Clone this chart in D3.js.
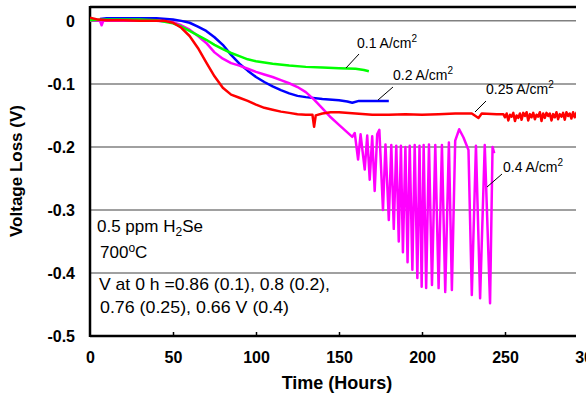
<!DOCTYPE html>
<html>
<head>
<meta charset="utf-8">
<script src="https://cdn.jsdelivr.net/npm/d3@7"></script>
<style>
  body { margin: 0; background: #fff; }
  text { font-family: Arial, "Liberation Sans", sans-serif; fill: #000; }
</style>
</head>
<body>
<div id="chart"></div>
<script>
(function (d3) {
  'use strict';

  // ---- data (hours, volts) ----
  const xTicks = [0, 50, 100, 150, 200, 250, 300];
  const yTicks = [0, -0.1, -0.2, -0.3, -0.4, -0.5];
  const seriesNames = ['0.1 A/cm', '0.2 A/cm', '0.25 A/cm', '0.4 A/cm'];

  const t01 = [0, 10, 20, 30, 40, 50, 55, 60, 65, 70, 75, 80, 85, 90, 95, 100, 110, 120, 130, 140, 150, 160, 165, 168];
  const v01 = [0.001, 0.002, 0.002, 0.002, 0.001, -0.004, -0.009, -0.016, -0.023, -0.030, -0.038, -0.045, -0.051,
               -0.056, -0.061, -0.064, -0.068, -0.071, -0.073, -0.074, -0.075, -0.076, -0.078, -0.080];

  const t02 = [6, 10, 20, 30, 40, 50, 55, 60, 65, 70, 75, 80, 85, 90, 95, 100, 105, 110, 115, 120, 125, 130,
               140, 150, 155, 158, 162, 170, 180];
  const v02 = [0.003, 0.004, 0.004, 0.004, 0.004, 0.002, 0.000, -0.003, -0.009, -0.016, -0.026, -0.038, -0.054,
               -0.068, -0.079, -0.089, -0.097, -0.104, -0.110, -0.115, -0.119, -0.121, -0.124, -0.126, -0.128,
               -0.130, -0.127, -0.127, -0.127];

  const t025 = [0, 5, 10, 20, 30, 40, 45, 50, 55, 60, 65, 70, 75, 80, 85, 90, 95, 100, 105, 110, 115, 120, 125,
                130, 134, 135, 136, 140, 145, 150, 160, 170, 180, 190, 200, 210, 220, 230, 234, 236, 245, 249,
                250, 251, 252, 253, 254, 255, 256, 257, 258, 259, 260, 261, 262, 263, 264, 265, 266, 267, 268,
                269, 270, 271, 272, 273, 274, 275, 276, 277, 278, 279, 280, 281, 282, 283, 284, 285, 286, 287,
                288, 289, 290, 291, 292, 293, 294.5];
  const v025 = [0.005, 0.002, 0.001, 0.001, 0.000, 0.000, 0.000, -0.003, -0.011, -0.024, -0.043, -0.066, -0.088,
                -0.106, -0.117, -0.122, -0.127, -0.133, -0.138, -0.141, -0.144, -0.146, -0.148, -0.149, -0.149,
                -0.168, -0.150, -0.147, -0.145, -0.145, -0.147, -0.149, -0.149, -0.148, -0.149, -0.148, -0.147,
                -0.147, -0.154, -0.147, -0.148, -0.148,
                -0.153, -0.147, -0.158, -0.149, -0.152, -0.146, -0.159, -0.150, -0.154, -0.147, -0.157, -0.146,
                -0.151, -0.145, -0.158, -0.148, -0.153, -0.146, -0.156, -0.149, -0.152, -0.145, -0.159, -0.147,
                -0.154, -0.146, -0.151, -0.147, -0.158, -0.148, -0.153, -0.145, -0.156, -0.148, -0.152, -0.146,
                -0.157, -0.145, -0.151, -0.147, -0.155, -0.145, -0.153, -0.146, -0.150];

  const t04 = [0, 6, 7, 8, 20, 30, 40, 50, 55, 60, 65, 70, 75, 80, 85, 90, 95, 100, 105, 110, 115, 120, 125, 130,
               135, 140, 145, 150, 155, 158, 159.5, 161.5, 163, 165.5, 167, 168.5, 170, 171.5, 173, 174.3, 176.5,
               178, 180, 181.5, 183, 184.5, 186, 187.3, 188.5, 190, 191.3, 192.6, 194.2, 195.6, 197.2, 198.5,
               199.8, 201, 202.5, 204.2, 206, 208, 210, 212, 214, 216.2, 218, 220, 222.4, 225, 228, 230, 232.5,
               235, 237.8, 241, 242.5, 243.5];
  const v04 = [0.000, 0.000, -0.007, 0.000, 0.000, 0.000, 0.000, -0.002, -0.007, -0.014, -0.024, -0.035, -0.050,
               -0.060, -0.067, -0.071, -0.076, -0.081, -0.085, -0.089, -0.094, -0.099, -0.105, -0.113, -0.125,
               -0.139, -0.153, -0.165, -0.177, -0.184, -0.178, -0.220, -0.180, -0.236, -0.182, -0.252, -0.183,
               -0.270, -0.180, -0.173, -0.300, -0.196, -0.316, -0.197, -0.330, -0.198, -0.350, -0.198, -0.367,
               -0.200, -0.383, -0.198, -0.395, -0.197, -0.408, -0.198, -0.422, -0.197, -0.424, -0.196, -0.419,
               -0.197, -0.424, -0.197, -0.430, -0.193, -0.427, -0.190, -0.172, -0.185, -0.205, -0.435, -0.198,
               -0.440, -0.197, -0.448, -0.200, -0.210];

  // ---- layout ----
  const width = 586, height = 404;
  const left = 90, right = 576, top = 7, bottom = 336;

  const x = d3.scaleLinear().domain([0, 300]).range([90, 588]);
  const y = d3.scaleLinear().domain([-0.5, 0.022]).range([bottom, top]);

  const svg = d3.select('#chart').append('svg')
      .attr('width', width)
      .attr('height', height);

  svg.append('defs').append('clipPath').attr('id', 'plot')
    .append('rect')
      .attr('x', left).attr('y', top)
      .attr('width', right - left).attr('height', bottom - top);

  // gridlines
  svg.append('g').selectAll('line').data(yTicks.filter(d => d > -0.5)).enter()
    .append('line')
      .attr('x1', left).attr('x2', right)
      .attr('y1', d => y(d)).attr('y2', d => y(d))
      .attr('stroke', '#808080')
      .attr('stroke-width', 1.5);

  // x axis
  const xAxis = svg.append('g')
      .attr('transform', 'translate(0,' + bottom + ')')
      .call(d3.axisBottom(x).tickValues(xTicks).tickSize(-4).tickPadding(16).tickFormat(d3.format('d')));
  xAxis.select('.domain').remove();
  xAxis.selectAll('.tick line')
      .attr('stroke', '#000').attr('stroke-width', 1.5)
      .attr('display', d => (d === 0 || x(d) > right) ? 'none' : null);
  xAxis.selectAll('text')
      .style('font-size', '16px').style('font-weight', 'bold').attr('fill', '#000');

  // y axis
  const yAxis = svg.append('g')
      .attr('transform', 'translate(' + left + ',0)')
      .call(d3.axisLeft(y).tickValues(yTicks).tickSize(0).tickPadding(15)
        .tickFormat(d => d === 0 ? '0' : String(d)));
  yAxis.select('.domain').remove();
  yAxis.selectAll('text')
      .style('font-size', '16px').style('font-weight', 'bold').attr('fill', '#000')
      .attr('dy', '0.36em');

  // frame
  const frame = svg.append('g').attr('stroke', '#000').attr('stroke-width', 2.5);
  frame.append('line').attr('x1', left).attr('x2', left).attr('y1', top - 1).attr('y2', bottom + 1);
  frame.append('line').attr('x1', left).attr('x2', right).attr('y1', bottom).attr('y2', bottom);
  frame.append('line').attr('x1', left).attr('x2', right).attr('y1', top).attr('y2', top);

  // series
  const series = [
    { name: seriesNames[1], pts: d3.zip(t02, v02), color: '#0000ff' },
    { name: seriesNames[3], pts: d3.zip(t04, v04), color: '#ff00ff' },
    { name: seriesNames[0], pts: d3.zip(t01, v01), color: '#00ff00' },
    { name: seriesNames[2], pts: d3.zip(t025, v025), color: '#ff0000' }
  ];

  const line = d3.line()
      .x(d => x(d[0]))
      .y(d => y(d[1]));

  svg.append('g').attr('clip-path', 'url(#plot)')
    .selectAll('path.series').data(series).enter()
    .append('path')
      .attr('class', 'series')
      .attr('d', d => line(d.pts))
      .attr('fill', 'none')
      .attr('stroke', d => d.color)
      .attr('stroke-width', 2.5)
      .attr('stroke-linejoin', 'round');

  // series labels with leader lines, placed in pixels
  const notes = [
    { name: seriesNames[0], from: [346, 68], to: [359, 54], at: [357, 48] },
    { name: seriesNames[1], from: [378, 100], to: [393, 87], at: [393, 80] },
    { name: seriesNames[2], from: [475, 112], to: [486, 101], at: [486, 94] },
    { name: seriesNames[3], from: [487, 187], to: [502, 174], at: [503, 172] }
  ];

  const ng = svg.append('g');
  ng.selectAll('line').data(notes).enter()
    .append('line')
      .attr('x1', d => d.from[0]).attr('y1', d => d.from[1])
      .attr('x2', d => d.to[0]).attr('y2', d => d.to[1])
      .attr('stroke', '#000').attr('stroke-width', 1);
  const nt = ng.selectAll('text').data(notes).enter()
    .append('text')
      .attr('x', d => d.at[0]).attr('y', d => d.at[1])
      .style('font-size', '14px');
  nt.append('tspan').text(d => d.name);
  nt.append('tspan').attr('dy', -6).style('font-size', '10px').text('2');

  // conditions box text
  const info = svg.append('g').style('font-size', '17px');
  const t1 = info.append('text').attr('x', 97).attr('y', 232);
  t1.append('tspan').text('0.5 ppm H');
  t1.append('tspan').attr('dy', 4).style('font-size', '12px').text('2');
  t1.append('tspan').attr('dy', -4).text('Se');
  const t2 = info.append('text').attr('x', 100).attr('y', 258);
  t2.append('tspan').text('700');
  t2.append('tspan').attr('dy', -6).style('font-size', '12px').text('o');
  t2.append('tspan').attr('dy', 6).text('C');
  info.append('text').attr('x', 99).attr('y', 290)
      .attr('textLength', 231).attr('lengthAdjust', 'spacingAndGlyphs')
      .text('V at 0 h =0.86 (0.1), 0.8 (0.2),');
  info.append('text').attr('x', 100).attr('y', 313)
      .attr('textLength', 189).attr('lengthAdjust', 'spacingAndGlyphs')
      .text('0.76 (0.25), 0.66 V (0.4)');

  // axis titles
  svg.append('text')
      .attr('x', 337).attr('y', 389)
      .attr('text-anchor', 'middle')
      .style('font-size', '18px').style('font-weight', 'bold')
      .text('Time (Hours)');
  svg.append('text')
      .attr('transform', 'translate(22,171) rotate(-90)')
      .attr('text-anchor', 'middle')
      .style('font-size', '17px').style('font-weight', 'bold')
      .text('Voltage Loss (V)');
})(d3);
</script>
</body>
</html>
